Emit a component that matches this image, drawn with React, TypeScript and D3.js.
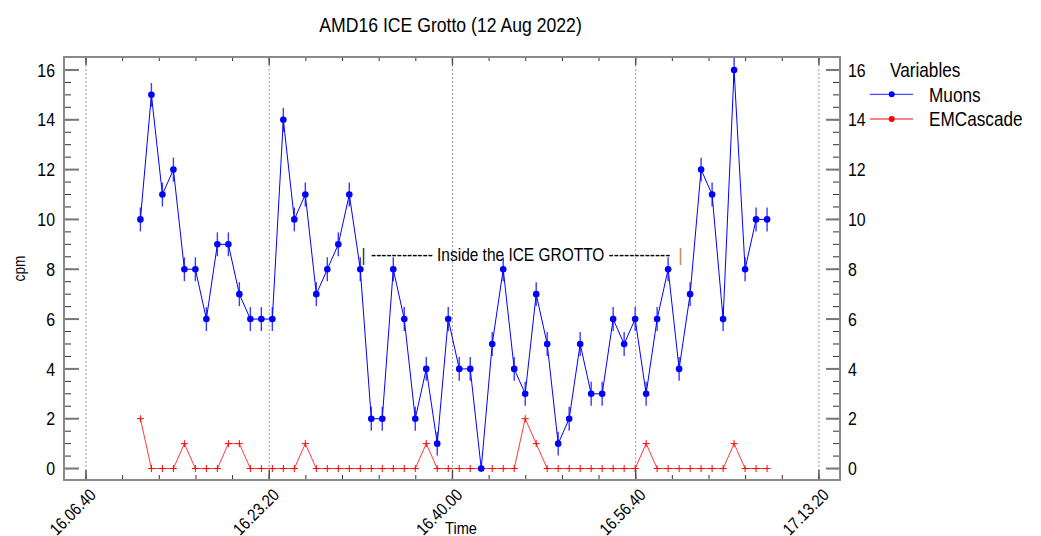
import React from "react";
import * as d3 from "d3";

const times = [
  "16:11:37","16:12:37","16:13:37","16:14:37","16:15:37","16:16:37","16:17:37","16:18:37","16:19:37","16:20:37",
  "16:21:37","16:22:37","16:23:37","16:24:37","16:25:37","16:26:37","16:27:37","16:28:37","16:29:37","16:30:37",
  "16:31:37","16:32:37","16:33:37","16:34:37","16:35:37","16:36:37","16:37:37","16:38:37","16:39:37","16:40:37",
  "16:41:37","16:42:37","16:43:37","16:44:37","16:45:37","16:46:37","16:47:37","16:48:37","16:49:37","16:50:37",
  "16:51:37","16:52:37","16:53:37","16:54:37","16:55:37","16:56:37","16:57:37","16:58:37","16:59:37","17:00:37",
  "17:01:37","17:02:37","17:03:37","17:04:37","17:05:37","17:06:37","17:07:37","17:08:37",
];

const muons = [
  10, 15, 11, 12, 8, 8, 6, 9, 9, 7,
  6, 6, 6, 14, 10, 11, 7, 8, 9, 11,
  8, 2, 2, 8, 6, 2, 4, 1, 6, 4,
  4, 0, 5, 8, 4, 3, 7, 5, 1, 2,
  5, 3, 3, 6, 5, 6, 3, 6, 8, 4,
  7, 12, 11, 6, 16, 8, 10, 10,
];

const emCascade = [
  2, 0, 0, 0, 1, 0, 0, 0, 1, 1,
  0, 0, 0, 0, 0, 1, 0, 0, 0, 0,
  0, 0, 0, 0, 0, 0, 1, 0, 0, 0,
  0, 0, 0, 0, 0, 2, 1, 0, 0, 0,
  0, 0, 0, 0, 0, 0, 1, 0, 0, 0,
  0, 0, 0, 0, 1, 0, 0, 0,
];

const MUON_ERR = 0.48;

const xTickLabels = ["16.06.40", "16.23.20", "16.40.00", "16.56.40", "17.13.20"];
const yTickLabels = [0, 2, 4, 6, 8, 10, 12, 14, 16];

const seriesNames = ["Muons", "EMCascade"];

const toSec = (s: string) => {
  const p = s.split(/[:.]/).map(Number);
  return p[0] * 3600 + p[1] * 60 + p[2];
};

const FONT = "'Liberation Sans', Arial, Helvetica, sans-serif";

function T(props: {
  x: number; y: number; size: number; anchor?: string; rot?: number; fill?: string; sx?: number; children: any;
}) {
  const { x, y, size, anchor = "start", rot = 0, fill = "#000", sx = 0.86, children } = props;
  return (
    <text
      transform={`translate(${x},${y}) rotate(${rot}) scale(${sx},1)`}
      fontSize={size}
      textAnchor={anchor as any}
      fontFamily={FONT}
      fill={fill}
    >
      {children}
    </text>
  );
}

export default function App() {
  const W = 1041, H = 536;
  const L = 64, R = 840, Tp = 57, B = 480;

  const x = d3.scaleLinear().domain([57880, 62115]).range([L, R]);
  const y = d3.scaleLinear().domain([-0.46, 16.52]).range([B, Tp]);

  const tSec = times.map(toSec);
  const majorX = xTickLabels.map(toSec);
  const minorX = d3.range(majorX[0], majorX[majorX.length - 1] + 1, 200);
  const minorY = d3.range(0, 16.01, 0.5);

  const line = d3
    .line<number>()
    .x((_, i) => x(tSec[i]))
    .y((d) => y(d));

  const muonColor = "#0000ff";
  const emColor = "#ff3a3a";
  const axisColor = "#8a8a8a";

  return (
    <svg
      width={W}
      height={H}
      style={{ position: "absolute", left: 0, top: 0, background: "#fff" }}
    >
      <rect x={0} y={0} width={W} height={H} fill="#fff" />

      {/* Title */}
      <T x={450.5} y={32} size={20.5} anchor="middle">AMD16 ICE Grotto (12 Aug 2022)</T>

      {/* gridlines */}
      {majorX.map((t, i) => (
        <line key={"g" + i} x1={x(t)} x2={x(t)} y1={Tp} y2={B} stroke="#9a9a9a" strokeWidth={1} strokeDasharray="2,2" />
      ))}

      {/* minor ticks x (top & bottom) */}
      {minorX.map((t, i) => (
        <g key={"mx" + i}>
          <line x1={x(t)} x2={x(t)} y1={B} y2={B - 5} stroke="#333" strokeWidth={1} />
          <line x1={x(t)} x2={x(t)} y1={Tp} y2={Tp + 4} stroke="#333" strokeWidth={1} />
        </g>
      ))}
      {majorX.map((t, i) => (
        <g key={"Mx" + i}>
          <line x1={x(t)} x2={x(t)} y1={B} y2={B - 10} stroke="#555" strokeWidth={1.5} />
          <line x1={x(t)} x2={x(t)} y1={Tp} y2={Tp + 8} stroke="#555" strokeWidth={1.5} />
        </g>
      ))}

      {/* minor ticks y */}
      {minorY.map((v, i) => (
        <g key={"my" + i}>
          <line x1={L} x2={L + 7} y1={y(v)} y2={y(v)} stroke="#333" strokeWidth={1} />
          <line x1={R} x2={R - 7} y1={y(v)} y2={y(v)} stroke="#333" strokeWidth={1} />
        </g>
      ))}
      {yTickLabels.map((v, i) => (
        <g key={"My" + i}>
          <line x1={L} x2={L + 15} y1={y(v)} y2={y(v)} stroke="#777" strokeWidth={2} />
          <line x1={R} x2={R - 14} y1={y(v)} y2={y(v)} stroke="#777" strokeWidth={2} />
          <T x={55} y={y(v) + 6.7} size={18.5} anchor="end">{String(v)}</T>
          <T x={848} y={y(v) + 6.7} size={18.5}>{String(v)}</T>
        </g>
      ))}

      {/* frame */}
      <rect x={L} y={Tp} width={R - L} height={B - Tp} fill="none" stroke={axisColor} strokeWidth={2} />

      {/* x tick labels */}
      {majorX.map((t, i) => (
        <T key={"xl" + i} x={x(t) + 11} y={496} size={17} anchor="end" rot={-45}>
          {xTickLabels[i]}
        </T>
      ))}

      {/* axis titles */}
      <T x={461} y={534} size={17} anchor="middle">Time</T>
      <T x={25} y={268.5} size={16} anchor="middle" rot={-90}>cpm</T>

      {/* EMCascade series */}
      <path d={line(emCascade) || ""} fill="none" stroke={emColor} strokeWidth={1} />
      {emCascade.map((v, i) => (
        <g key={"e" + i} stroke="#ff0000" strokeWidth={1}>
          <line x1={x(tSec[i]) - 3.5} x2={x(tSec[i]) + 3.5} y1={y(v)} y2={y(v)} />
          <line x1={x(tSec[i])} x2={x(tSec[i])} y1={y(v) - 3.5} y2={y(v) + 3.5} />
        </g>
      ))}

      {/* Muons error bars */}
      {muons.map((v, i) =>
        v > 0 ? (
          <line
            key={"eb" + i}
            x1={x(tSec[i])}
            x2={x(tSec[i])}
            y1={y(v - MUON_ERR)}
            y2={y(v + MUON_ERR)}
            stroke="#3a3aff"
            strokeWidth={1.4}
          />
        ) : null
      )}
      {/* Muons series */}
      <path d={line(muons) || ""} fill="none" stroke={muonColor} strokeWidth={1} />
      {muons.map((v, i) => (
        <circle key={"m" + i} cx={x(tSec[i])} cy={y(v)} r={3.3} fill={muonColor} />
      ))}

      {/* annotation */}
      <T x={363.5} y={260.5} size={18} anchor="middle" fill="#222">|</T>
      <T x={371} y={260.5} size={18}>------------ Inside the ICE GROTTO ------------</T>
      <T x={680.5} y={260.5} size={18} anchor="middle" fill="#c87a30">|</T>

      {/* legend */}
      <T x={890} y={76.5} size={20}>Variables</T>
      <line x1={870} x2={913} y1={94.3} y2={94.3} stroke="#4a4aff" strokeWidth={1.3} />
      <circle cx={891.7} cy={94.3} r={3} fill={muonColor} />
      <T x={929} y={101.5} size={20}>{seriesNames[0]}</T>
      <line x1={870} x2={913} y1={119} y2={119} stroke="#ff5a5a" strokeWidth={1.3} />
      <circle cx={891.7} cy={119} r={3} fill="#ff0000" />
      <T x={929} y={126} size={20}>{seriesNames[1]}</T>
    </svg>
  );
}
